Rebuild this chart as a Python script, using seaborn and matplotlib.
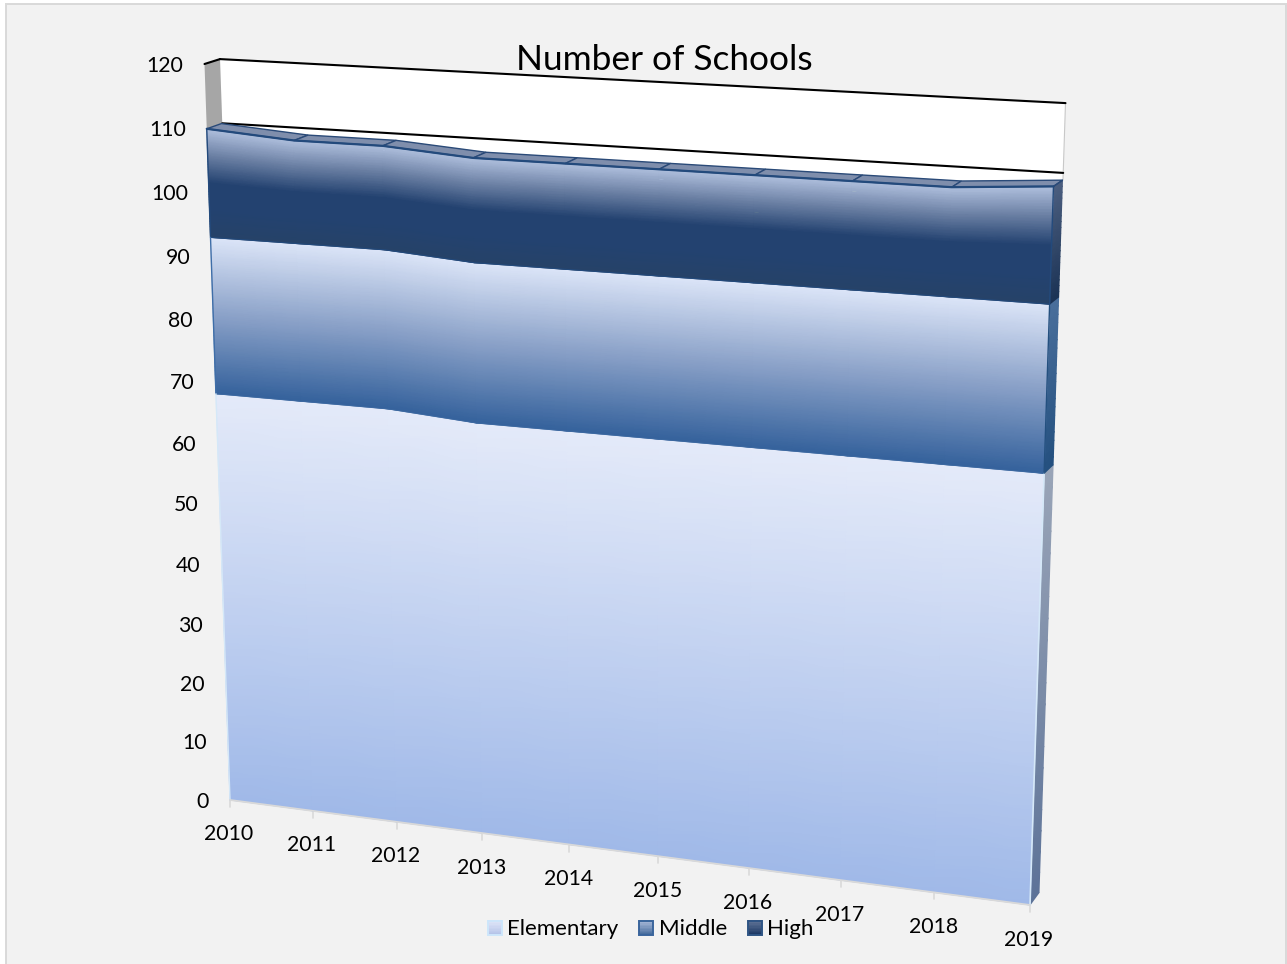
import numpy as np
import pandas as pd
import matplotlib
matplotlib.use("Agg")
import matplotlib.pyplot as plt
import seaborn as sns
from matplotlib.colors import LinearSegmentedColormap
from matplotlib.patches import Rectangle, Patch, Polygon
from matplotlib.legend_handler import HandlerBase
from matplotlib.transforms import Transform

# ---- data ----
years = [2010, 2011, 2012, 2013, 2014, 2015, 2016, 2017, 2018, 2019]
elementary = [68, 68, 68, 67, 67, 67, 67, 67, 67, 67]
middle = [25, 25, 25, 25, 25, 25, 25, 25, 25, 25]
high = [17, 16, 16, 16, 16, 16, 16, 16, 16, 17]
value_ticks = [0, 10, 20, 30, 40, 50, 60, 70, 80, 90, 100, 110, 120]
series_names = ["Elementary", "Middle", "High"]
title_text = "Number of Schools"

# ---- style ----
sns.set_theme(style="white")
plt.rcParams["font.family"] = ["Lato", "DejaVu Sans"]
BG = "#f2f2f2"
GRAD_EL = ["#e4eaf9", "#a0b9e8"]
GRAD_MID = ["#dce5f8", "#8aa1c8", "#35629c"]
GRAD_HIGH = ["#b0c0de", "#6a7fa3", "#234270", "#234270", "#264268"]
SIDE_EL = ["#9aa5b8", "#5d7398"]
SIDE_MID = ["#4a6f9c", "#24507f"]
SIDE_HIGH = ["#4c5f80", "#1b3355"]


def cm(cols):
    return LinearSegmentedColormap.from_list("g", cols, N=256)


# ---- perspective of the tilted chart plane ----
src = [(0, 0), (9, 0), (0, 120), (9, 120)]
dst = [(230, 800), (1030, 905), (204.5, 64), (1056, 109)]
A, b = [], []
for (x, y), (u, v) in zip(src, dst):
    A.append([x, y, 1, 0, 0, 0, -u * x, -u * y]); b.append(u)
    A.append([0, 0, 0, x, y, 1, -v * x, -v * y]); b.append(v)
H = np.append(np.linalg.solve(np.array(A, float), np.array(b, float)), 1).reshape(3, 3)


class Persp(Transform):
    """(year index, value) -> canvas; dp 0 = front, 1 = back of the 3-D box."""
    input_dims = output_dims = 2
    is_separable = False
    has_inverse = False

    def __init__(self, dp=0.0):
        super().__init__()
        self.dp = dp

    def transform_non_affine(self, xy):
        xy = np.asarray(xy, float)
        i, v = xy[:, 0], xy[:, 1]
        q = H @ np.vstack([i, v, np.ones_like(i)])
        px, py = q[0] / q[2], q[1] / q[2]
        dx = 15.5 - 6.0 * i / 9
        dy = -13 + 6.5 * v / 110 + (1 - i / 9) * 1.0
        return np.column_stack([px + self.dp * dx, py + self.dp * dy])


fig = plt.figure(figsize=(12.87, 9.64), dpi=100, facecolor="white")
ax = fig.add_axes([0, 0, 1, 1])
ax.set_xlim(0, 1287)
ax.set_ylim(964, 0)
ax.axis("off")
ax.autoscale(False)
ax.add_patch(Rectangle((5.5, 4), 1280, 990, fc=BG, ec="#d9d9d9", lw=1.4, zorder=0))

front = Persp(0) + ax.transData
back = Persp(1) + ax.transData
xs = np.arange(len(years), dtype=float)
el = np.array(elementary, float)
mi = el + np.array(middle, float)
hi = mi + np.array(high, float)
zeros = np.zeros_like(el)
top_val = value_ticks[-1]

# back wall and left wall
ax.fill(np.r_[xs, xs[::-1]], np.r_[np.full(10, top_val), hi[::-1]], color="white",
        transform=back, zorder=1, lw=0)
lv = np.array([hi[0], top_val], float)
P = Persp(1).transform(np.column_stack([[0, 0], lv]))
F = Persp(0).transform(np.column_stack([[0, 0], lv]))
ax.add_patch(Polygon(np.vstack([F, P[::-1]]), fc="#a6a6a6", ec="none", zorder=1))
# right hairline of wall
ax.plot([9, 9], [hi[-1], top_val], color="#c8c8c8", lw=0.8, transform=back, zorder=2)

# gridlines visible on wall
for v in value_ticks:
    if v >= 110:
        sns.lineplot(x=[0, 9], y=[v, v], color="black", lw=1.5, ax=ax, transform=back,
                     errorbar=None, sort=False, zorder=3)
        g = Persp(1).transform(np.array([[0, v]], float))[0]
        f = Persp(0).transform(np.array([[0, v]], float))[0]
        if v == 120:
            ax.plot([f[0], g[0]], [f[1], g[1]], color="black", lw=1.5, zorder=3)


def band(lo, hi_, cols, z):
    ss = np.linspace(0, 1, 41)
    X = np.tile(xs, (len(ss), 1))
    Y = np.array([hi_ + (lo - hi_) * s for s in ss])
    C = np.array([np.full_like(xs, s) for s in ss])
    ax.pcolormesh(X, Y, C, cmap=cm(cols), vmin=0, vmax=1, shading="gouraud",
                  transform=front, zorder=z)


def side(lo, hi_, cols, z):
    ss = np.linspace(0, 1, 21)
    pts_f = np.array([Persp(0).transform(np.array([[9, hi_ + (lo - hi_) * s]]))[0] for s in ss])
    pts_b = np.array([Persp(0.95).transform(np.array([[9, hi_ + (lo - hi_) * s]]))[0] for s in ss])
    X = np.column_stack([pts_f[:, 0], pts_b[:, 0]])
    Y = np.column_stack([pts_f[:, 1], pts_b[:, 1]])
    C = np.column_stack([ss, ss])
    ax.pcolormesh(X, Y, C, cmap=cm(cols), vmin=0, vmax=1, shading="gouraud", zorder=z)


# right side faces
side(0, el[-1], SIDE_EL, 4)
side(el[-1], mi[-1], SIDE_MID, 4)
side(mi[-1], hi[-1], SIDE_HIGH, 4)

# front faces
band(zeros, el, GRAD_EL, 5)
band(el, mi, GRAD_MID, 6)
band(mi, hi, GRAD_HIGH, 7)

# top strip of the High series
front_tf, back_tf = Persp(0), Persp(0.95)
for k in range(len(xs) - 1):
    seg_x, seg_y = xs[k:k + 2], hi[k:k + 2]
    a = front_tf.transform(np.column_stack([seg_x, seg_y]))
    c = back_tf.transform(np.column_stack([seg_x, seg_y]))
    ax.add_patch(Polygon(np.vstack([a, c[::-1]]), fc="#7f8eac", ec="#2a4a78", lw=1.0, zorder=8))
# top of right side
e = front_tf.transform(np.array([[9, hi[-1]]]))[0]
e2 = back_tf.transform(np.array([[9, hi[-1]]]))[0]
ax.plot([e[0], e2[0]], [e[1], e2[1]], color="#2a4a78", lw=1.0, zorder=9)

# series outlines
sns.lineplot(x=xs, y=hi, color="#234a7c", lw=1.6, ax=ax, transform=front, errorbar=None, sort=False, zorder=9)
sns.lineplot(x=xs, y=mi, color="#234a7c", lw=0.8, ax=ax, transform=front, errorbar=None, sort=False, zorder=9)
sns.lineplot(x=xs, y=el, color="#3f6ba3", lw=0.5, ax=ax, transform=front, errorbar=None, sort=False, zorder=9)
ax.plot([0, 0], [mi[0], hi[0]], color="#234a7c", lw=1.0, transform=front, zorder=9)
ax.plot([0, 0], [el[0], mi[0]], color="#3f6ea8", lw=1.0, transform=front, zorder=9)
ax.plot([0, 0], [0, el[0]], color="#d5e8f8", lw=1.0, transform=front, zorder=9)
ax.plot([9, 9], [0, el[-1]], color="#d5e8f8", lw=1.2, transform=front, zorder=9)
ax.plot([9, 9], [el[-1], mi[-1]], color="#24507f", lw=1.0, transform=front, zorder=9)
ax.plot([9, 9], [mi[-1], hi[-1]], color="#234a7c", lw=1.0, transform=front, zorder=9)

# floor axis and ticks
ax.plot([0, 9], [0, 0], color="#d9d9d9", lw=1.3, transform=front, zorder=9)
for i, yr in enumerate(years):
    p = Persp(0).transform(np.array([[float(i), 0.0]]))[0]
    ax.plot([p[0], p[0]], [p[1], p[1] + 7], color="#d9d9d9", lw=1.2, zorder=3)
    ax.annotate(str(yr), xy=(i, 0), xycoords=front, xytext=(-1, -34.5), textcoords="offset pixels",
                ha="center", va="center", fontsize=15.3, color="black", zorder=12)

for v in value_ticks:
    ax.annotate(str(v), xy=(0, v), xycoords=front, xytext=(-21, -1.5), textcoords="offset pixels",
                ha="right", va="center", fontsize=15.3, color="black", zorder=12)

ax.text(664, 60, title_text, ha="center", va="center", fontsize=25.4, color="black", zorder=12)


# legend with gradient swatches
class Swatch(HandlerBase):
    def __init__(self, cols, edge):
        super().__init__()
        self.cols, self.edge = cols, edge

    def create_artists(self, legend, orig, xd, yd, w, h, fs, trans):
        cmap = cm(self.cols)
        out = []
        n = 10
        for k in range(n):
            out.append(Rectangle((0, h * (1 - (k + 1) / n)), w, h / n + 0.1,
                                 fc=cmap(k / (n - 1)), ec="none", transform=trans))
        out.append(Rectangle((0, 0), w, h, fc="none", ec=self.edge, lw=1.4, transform=trans))
        return out


handles = [Patch(label=n) for n in series_names]
leg = ax.legend(handles=handles, ncol=3, frameon=False, fontsize=16,
                loc="center left", bbox_to_anchor=(488 / 1287, 1 - 929 / 964),
                bbox_transform=fig.transFigure, borderaxespad=0, borderpad=0,
                handler_map={handles[0]: Swatch(["#dfe5f8", "#b6c4e8"], "#cde6fb"),
                             handles[1]: Swatch(["#a7b8d8", "#4a6f9f"], "#3a659c"),
                             handles[2]: Swatch(["#5f7396", "#1e3a66"], "#2f5585")},
                handlelength=0.62, handleheight=0.62, handletextpad=0.24, columnspacing=0.95,
                labelcolor="black")
leg.set_zorder(12)

fig.savefig("out.png", dpi=100, facecolor="white")
